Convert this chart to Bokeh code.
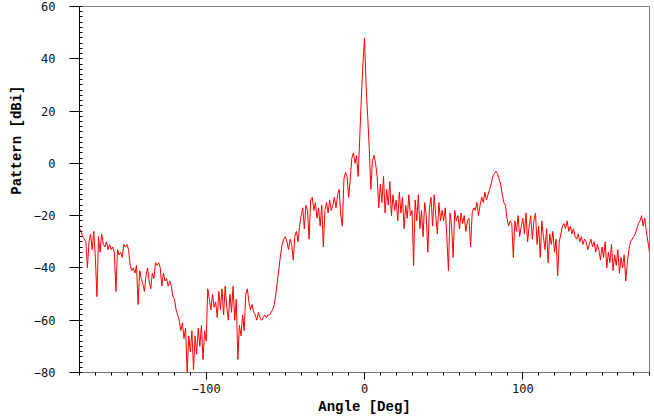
from bokeh.plotting import figure
from bokeh.models import FixedTicker, Title, Range1d, ColumnDataSource
from bokeh.embed import file_html
from bokeh.resources import INLINE

angle_deg = list(range(-180, 181))
pattern_dbi = [
    -25, -26, -28, -29, -30, -40, -30, -27, -33, -26,   # -180..-171
    -36, -51, -28, -34, -27, -31, -32, -30, -33, -31,   # -170..-161
    -33, -32, -34, -49, -33, -35, -34, -36, -31, -32,   # -160..-151
    -31, -33, -39, -41, -40, -42, -39, -54, -41, -44,   # -150..-141
    -46, -49, -43, -40, -45, -48, -42, -44, -38, -39,   # -140..-131
    -38, -40, -47, -42, -45, -44, -47, -45, -47, -51,   # -130..-121
    -52, -56, -58, -60, -64, -61, -67, -63, -80, -66,   # -120..-111
    -72, -64, -79, -66, -73, -63, -70, -62, -75, -64,   # -110..-101
    -68, -48, -52, -56, -50, -55, -53, -59, -49, -56,   # -100..-91
    -48, -58, -47, -55, -60, -50, -57, -47, -60, -52,   # -90..-81
    -75, -62, -66, -58, -64, -50, -48, -53, -56, -54,   # -80..-71
    -57, -58, -60, -57, -59, -60, -59, -58, -59, -58,   # -70..-61
    -58, -57, -56, -54, -50, -45, -40, -35, -31, -29,   # -60..-51
    -28, -30, -33, -29, -31, -37, -28, -26, -30, -24,   # -50..-41
    -20, -17, -25, -16, -18, -29, -14, -13, -18, -15,   # -40..-31
    -21, -17, -24, -16, -32, -18, -15, -19, -14, -18,   # -30..-21
    -16, -13, -17, -12, -10, -20, -24, -6, -3.5, -5,    # -20..-11
    -13, -6, 2, 4, 0, 3, -5, 10, 25, 38,                # -10..-1
    48, 30, 18, 6, -10, 1, 3, 0, -5, -17,               # 0..9
    -8, -15, -5, -19, -10, -16, -7, -20, -12, -18,      # 10..19
    -14, -22, -11, -19, -13, -25, -16, -21, -12, -20,   # 20..29
    -18, -39, -14, -22, -12, -25, -18, -28, -15, -20,   # 30..39
    -34, -17, -13, -24, -12, -20, -27, -15, -22, -18,   # 40..49
    -22, -17, -28, -41, -19, -24, -36, -18, -22, -20,   # 50..59
    -25, -19, -23, -20, -26, -22, -21, -32, -19, -17,   # 60..69
    -18, -15, -20, -16, -13, -15, -11, -14, -12, -10,   # 70..79
    -8, -5, -4, -3, -4, -6, -8, -12, -15, -16,          # 80..89
    -21, -24, -22, -23, -36, -22, -26, -20, -28, -24,   # 90..99
    -21, -27, -19, -30, -24, -20, -29, -22, -19, -31,   # 100..109
    -24, -36, -22, -28, -33, -25, -38, -27, -31, -26,   # 110..119
    -34, -29, -43, -30, -27, -24, -23, -25, -22, -26,   # 120..129
    -24, -27, -25, -28, -29, -27, -30, -28, -31, -29,   # 130..139
    -30, -33, -31, -29, -32, -30, -34, -31, -33, -37,   # 140..149
    -32, -36, -30, -40, -34, -38, -31, -41, -35, -39,   # 150..159
    -33, -42, -36, -40, -35, -45, -38, -33, -30, -29,   # 160..169
    -28, -27, -25, -23, -22, -20, -24, -21, -26, -30, -34,  # 170..180
]

x_major = [-100, 0, 100]
x_minor = list(range(-180, 181, 10))
y_major = [-80, -60, -40, -20, 0, 20, 40, 60]
y_minor = list(range(-80, 61, 2))

x_label = "Angle [Deg]"
y_label = "Pattern [dBi]"

src = ColumnDataSource(data=dict(angle=angle_deg, pattern=pattern_dbi))

p = figure(width=654, height=417, output_backend="svg", toolbar_location=None,
           x_range=Range1d(-180, 180), y_range=Range1d(-80, 60),
           min_border_left=79, min_border_right=5, min_border_top=6, min_border_bottom=0)
p.background_fill_color = "white"
p.border_fill_color = "white"
p.outline_line_color = "#808080"
p.xgrid.visible = False
p.ygrid.visible = False

p.line("angle", "pattern", source=src, line_color="#ff0000", line_width=1)

xa = p.xaxis[0]
xa.ticker = FixedTicker(ticks=x_major, minor_ticks=x_minor)
xa.axis_label = x_label
xa.axis_label_text_font = "Liberation Mono"
xa.axis_label_text_font_size = "14px"
xa.axis_label_text_font_style = "bold"
xa.axis_label_text_color = "#000000"
xa.axis_label_standoff = 3
xa.major_label_text_font = "DejaVu Sans Mono"
xa.major_label_text_font_size = "12px"
xa.major_label_text_color = "#111111"
xa.major_label_standoff = 4
xa.axis_line_color = "#707070"
xa.major_tick_line_color = "#000000"
xa.minor_tick_line_color = "#000000"
xa.major_tick_out = 7
xa.major_tick_in = 0
xa.minor_tick_out = 3
xa.minor_tick_in = 0

ya = p.yaxis[0]
ya.ticker = FixedTicker(ticks=y_major, minor_ticks=y_minor)
ya.major_label_text_font = "DejaVu Sans Mono"
ya.major_label_text_font_size = "12px"
ya.major_label_text_color = "#111111"
ya.major_label_standoff = 14
ya.axis_line_color = "#000000"
ya.major_tick_line_color = "#000000"
ya.minor_tick_line_color = "#000000"
ya.major_tick_out = 10
ya.major_tick_in = 0
ya.minor_tick_out = 0
ya.minor_tick_in = 3

t = Title(text=y_label, align="right", offset=79,
          text_font="Liberation Mono", text_font_size="14px",
          text_font_style="bold", text_color="#000000", standoff=12)
p.add_layout(t, "left")

open("out.html", "w").write(file_html(p, INLINE))
